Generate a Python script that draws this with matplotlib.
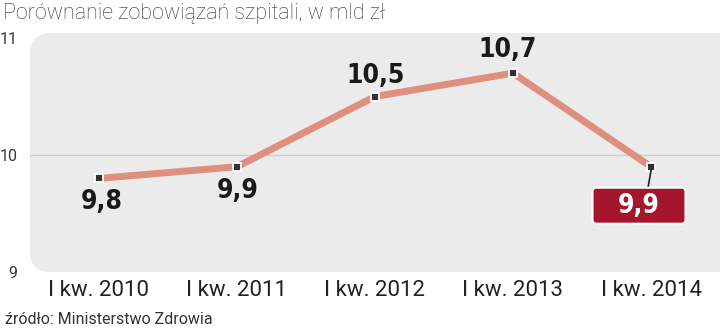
import matplotlib.pyplot as plt
from matplotlib.patches import FancyBboxPatch
from matplotlib.transforms import IdentityTransform

quarters = ['I kw. 2010', 'I kw. 2011', 'I kw. 2012', 'I kw. 2013', 'I kw. 2014']
liabilities = [9.8, 9.9, 10.5, 10.7, 9.9]
value_labels = ['9,8', '9,9', '10,5', '10,7', '9,9']
yticks = [9, 10, 11]

W, H = 720, 330
fig = plt.figure(figsize=(W / 100, H / 100), dpi=100)
ax = fig.add_axes([30 / W, 58 / H, 690 / W, 239 / H])
ax.set_xlim(-0.5, 4.5)
ax.set_ylim(9, 11.043)
for s in ax.spines.values():
    s.set_visible(False)
ax.patch.set_visible(False)

# rounded grey panel behind the series
panel = FancyBboxPatch((0, 0), 1.05, 1, boxstyle='round,pad=0,rounding_size=0.03',
                       transform=ax.transAxes, facecolor='#ebebeb', edgecolor='none',
                       mutation_aspect=690 / 239, zorder=0, clip_on=False)
ax.add_patch(panel)
ax.axhline(10, color='#cdcdcd', lw=1, zorder=1)

x = list(range(len(quarters)))
ax.plot(x, liabilities, color='#df8f7d', lw=5, solid_capstyle='round', zorder=2)
ax.plot(x, liabilities, ls='none', marker='s', ms=6, mfc='#333333', mec='white', mew=1.3, zorder=3)

cond = dict(family=['DejaVu Sans'], fontstretch='condensed', fontweight='bold', fontsize=19,
            ha='center', va='center')
offsets = [(3, -24), (1, -24), (1, 21), (-5, 23)]
for i, (dx, dy) in enumerate(offsets):
    ax.annotate(value_labels[i], (x[i], liabilities[i]), xytext=(dx, dy),
                textcoords='offset pixels', color='#1a1a1a', **cond)

# last value highlighted in a red box, joined to its point by a short stem
px, py = ax.transData.transform((x[4], liabilities[4]))
bw, bh = 93, 36
bx, by = px - 12, py - 39
box = FancyBboxPatch((bx - bw / 2, by - bh / 2), bw, bh,
                     boxstyle='round,pad=0,rounding_size=4', transform=IdentityTransform(),
                     facecolor='#a5162d', edgecolor='white', lw=1.5, zorder=4)
fig.add_artist(box)
fig.add_artist(plt.Line2D([px, px - 3], [py - 4, by + bh / 2], transform=IdentityTransform(),
                          color='#222222', lw=1.2, zorder=3))
fig.text(bx / W, by / H, value_labels[4], color='white', zorder=5, **cond)

ax.set_xticks(x)
ax.set_xticklabels(quarters, family=['Roboto', 'DejaVu Sans'], fontsize=16, color='#222222')
ax.set_yticks(yticks)
ax.set_yticklabels([str(v) for v in yticks], fontsize=11.5, color='#3a3a3a',
                   family=['Roboto', 'DejaVu Sans'])
ax.tick_params(axis='x', length=0, pad=6)
ax.tick_params(axis='y', length=0, pad=9)

fig.text(3 / W, 1 - 13 / H, 'Porównanie zobowiązań szpitali, w mld zł', fontsize=15.5,
         family=['Roboto', 'DejaVu Sans'], fontweight='light', color='#333333', va='center')
fig.text(5 / W, 1 - 319 / H, 'źródło: Ministerstwo Zdrowia', fontsize=11.5,
         family=['Roboto', 'DejaVu Sans'], color='#333333', va='center')

fig.savefig('out.png', dpi=100, facecolor='white')
